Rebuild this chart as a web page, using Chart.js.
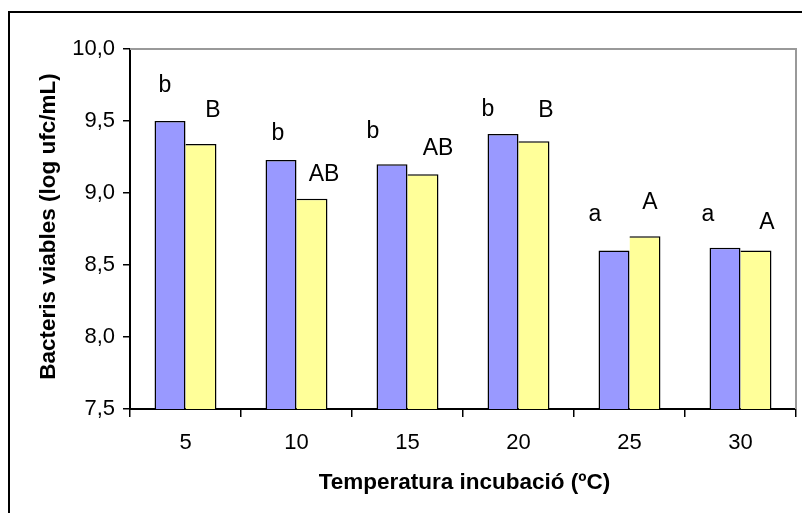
<!DOCTYPE html>
<html lang="ca">
<head>
<meta charset="UTF-8">
<title>Bacteris viables segons temperatura d'incubació</title>
<script src="https://cdn.jsdelivr.net/npm/chart.js"></script>
<style>
    body { margin: 0; background: #fff; }
    #wrap { width: 802px; height: 513px; }
</style>
</head>
<body>
<div id="wrap"><canvas id="chart" width="802" height="513"></canvas></div>

<script>
    // Temperatures (ºC) and viable counts (log ufc/mL)
    const temperatures = ['5', '10', '15', '20', '25', '30'];
    const countsLower = [9.50, 9.23, 9.20, 9.41, 8.60, 8.62];
    const countsUpper = [9.34, 8.96, 9.13, 9.36, 8.70, 8.60];
    // significance letters over each bar
    const lettersLower = ['b', 'b', 'b', 'b', 'a', 'a'];
    const lettersUpper = ['B', 'AB', 'AB', 'B', 'A', 'A'];
    const yTicks = [7.5, 8.0, 8.5, 9.0, 9.5, 10.0];

    const FONT = '"Liberation Sans", Arial, sans-serif';

    // outer frame + grey top/right edge of the plot area
    const framePlugin = {
        id: 'frame',
        beforeDraw(chart) {
            const ctx = chart.ctx;
            ctx.save();
            ctx.fillStyle = '#fff';
            ctx.fillRect(0, 0, chart.width, chart.height);
            ctx.fillStyle = '#000';
            ctx.fillRect(8, 11, 2, chart.height);
            ctx.fillRect(8, 11, chart.width, 2);
            ctx.restore();
        },
        beforeDatasetsDraw(chart) {
            const a = chart.chartArea;
            const ctx = chart.ctx;
            ctx.save();
            ctx.strokeStyle = '#999';
            ctx.lineWidth = 2;
            ctx.beginPath();
            ctx.moveTo(a.left, a.top);
            ctx.lineTo(a.right, a.top);
            ctx.lineTo(a.right, a.bottom);
            ctx.stroke();
            ctx.restore();
        }
    };

    // letters above the bars, nudged by hand
    const letterPlugin = {
        id: 'letters',
        afterDatasetsDraw(chart, args, opts) {
            const ctx = chart.ctx;
            ctx.save();
            ctx.font = '23px ' + FONT;
            ctx.fillStyle = '#000';
            ctx.textAlign = 'center';
            ctx.textBaseline = 'alphabetic';
            opts.sets.forEach((set, di) => {
                chart.getDatasetMeta(di).data.forEach((bar, i) => {
                    ctx.fillText(set.text[i], bar.x + set.dx[i], bar.y + set.dy[i]);
                });
            });
            ctx.restore();
        }
    };

    const axisTitlePlugin = {
        id: 'axisTitles',
        afterDraw(chart) {
            const ctx = chart.ctx;
            ctx.save();
            ctx.fillStyle = '#000';
            ctx.font = 'bold 22.5px ' + FONT;
            ctx.textAlign = 'center';
            ctx.textBaseline = 'alphabetic';
            ctx.fillText('Temperatura incubació (ºC)', 464.5, 489);
            ctx.translate(55, 226.5);
            ctx.rotate(-Math.PI / 2);
            ctx.fillText('Bacteris viables (log ufc/mL)', 0, 0);
            ctx.restore();
        }
    };

    new Chart(document.getElementById('chart').getContext('2d'), {
        type: 'bar',
        data: {
            labels: temperatures,
            datasets: [{
                data: countsLower,
                backgroundColor: '#9999FF',
                borderColor: '#000',
                borderWidth: 1.5
            }, {
                data: countsUpper,
                backgroundColor: '#FFFF99',
                borderColor: '#000',
                borderWidth: { top: 1.5, right: 1.5, bottom: 0, left: 0 }
            }]
        },
        options: {
            responsive: false,
            animation: false,
            devicePixelRatio: 1,
            categoryPercentage: 0.558,
            barPercentage: 1.0,
            layout: { padding: { top: 49, right: 6, left: 0, bottom: 0 } },
            plugins: {
                legend: { display: false },
                tooltip: { enabled: false },
                letters: {
                    sets: [
                        { text: lettersLower, dx: [-5, -3, -19, -15, -19, -17], dy: [-29, -20, -26, -18, -30, -27] },
                        { text: lettersUpper, dx: [12, 12, 15, 12, 5, 11], dy: [-27, -18, -19, -24, -27, -22] }
                    ]
                }
            },
            scales: {
                x: {
                    offset: true,
                    grid: { offset: true, drawOnChartArea: false, tickLength: 8, color: '#000', lineWidth: 1.5 },
                    border: { color: '#000', width: 2 },
                    ticks: { color: '#000', font: { family: FONT, size: 22 }, padding: 13 },
                    afterFit(scale) { scale.height = 104; }
                },
                y: {
                    min: 7.5,
                    max: 10,
                    grid: { drawOnChartArea: false, tickLength: 7, color: '#000', lineWidth: 1.5 },
                    border: { color: '#000', width: 2 },
                    ticks: {
                        color: '#000',
                        font: { family: FONT, size: 22 },
                        padding: 8,
                        callback: v => v.toFixed(1).replace('.', ',')
                    },
                    afterBuildTicks(scale) { scale.ticks = yTicks.map(v => ({ value: v })); },
                    afterFit(scale) { scale.width = 130; }
                }
            }
        },
        plugins: [framePlugin, letterPlugin, axisTitlePlugin]
    });
</script>
</body>
</html>
